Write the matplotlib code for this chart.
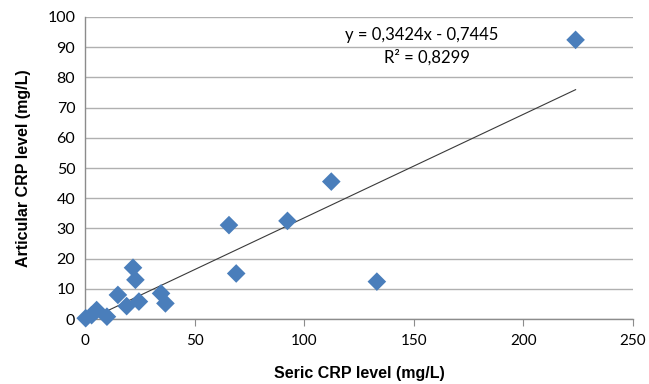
import numpy as np
import matplotlib
matplotlib.use('Agg')
import matplotlib.pyplot as plt

# data (serum vs articular CRP, mg/L)
seric = [0.3, 3, 5.3, 10, 15, 19, 21.9, 23, 24.6, 34.7, 36.7, 65.7, 69, 92.4, 112.4, 133.2, 223.9]
articular = [0.3, 1.3, 3, 0.8, 8, 4.3, 17, 13, 5.8, 8.5, 5.2, 31.1, 15.1, 32.5, 45.5, 12.4, 92.4]

slope = 0.3424
intercept = -0.7445
r2 = 0.8299
trend_start = 3

x_ticks = [0, 50, 100, 150, 200, 250]
y_ticks = [0, 10, 20, 30, 40, 50, 60, 70, 80, 90, 100]

fig = plt.figure(figsize=(6.49, 3.84), dpi=100)
ax = fig.add_axes([0.131, 0.169, 0.844, 0.787])

ax.set_xlim(0, 250)
ax.set_ylim(0, 100)
ax.set_xticks(x_ticks)
ax.set_yticks(y_ticks)
ax.yaxis.grid(True, color='#b0b0b0', linewidth=1)
ax.set_axisbelow(True)

for s in ['top', 'right']:
    ax.spines[s].set_visible(False)
for s in ['left', 'bottom']:
    ax.spines[s].set_color('#8c8c8c')
    ax.spines[s].set_linewidth(1)

ax.tick_params(axis='x', length=5, color='#8c8c8c', labelsize=11, pad=6)
ax.tick_params(axis='y', length=0, labelsize=11.5, pad=7)
for lab in ax.get_xticklabels() + ax.get_yticklabels():
    lab.set_fontfamily('Lato')

# trendline
tx = np.array([trend_start, max(seric)])
ax.plot(tx, slope * tx + intercept, color='#3a3a3a', linewidth=0.8, zorder=2)

ax.scatter(seric, articular, marker='D', s=90, color='#4a7ebb', edgecolors='none', zorder=3, clip_on=False)

ax.text(153.5, 94.0, 'y = 0,3424x - 0,7445', ha='center', va='center', fontsize=12, family='Lato')
ax.text(156, 86.5, 'R² = 0,8299', ha='center', va='center', fontsize=12, family='Lato')

ax.set_xlabel('Seric CRP level (mg/L)', fontsize=11.5, fontweight='bold', family='Liberation Sans', labelpad=13)
ax.set_ylabel('Articular CRP level (mg/L)', fontsize=11.5, fontweight='bold', family='Liberation Sans', labelpad=12)

fig.savefig('out.png', dpi=100)
